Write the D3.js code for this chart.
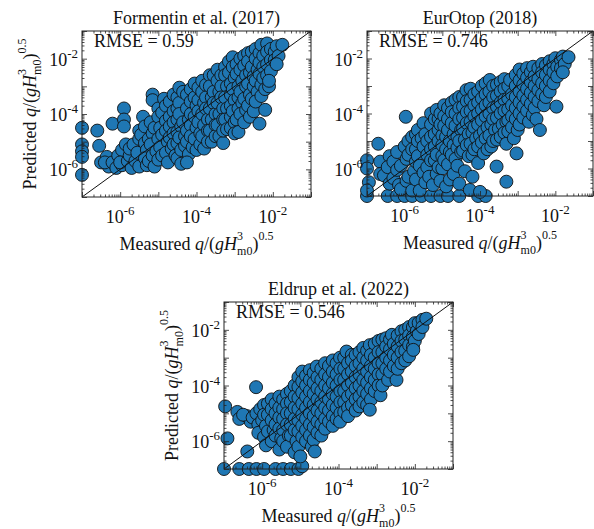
<html>
<head>
<meta charset="utf-8">
<title>Overtopping predictions</title>
<script src="https://cdnjs.cloudflare.com/ajax/libs/d3/7.8.5/d3.min.js"></script>
<style>
  body { margin: 0; background: #fff; }
  text { font-family: "Liberation Serif", "Times New Roman", serif; fill: #111; }
</style>
</head>
<body>
<script>
// values are log10 of [measured, predicted]
var formentin = [
  [-7,-4.5],[-7,-5.1],[-7,-5.35],[-7,-5.55],[-7,-6.2],
  [-6.6,-4.6],[-6.55,-5.15],[-6.5,-5.75],[-6.35,-5.55],[-6.3,-5.9],[-6.4,-5.75],
  [-6.2,-4.35],[-6.2,-5.75],[-6.1,-5.95],[-6.05,-5.5],[-5.95,-5.85],[-5.95,-5.3],[-6.0,-5.75],
  [-5.9,-3.8],[-5.9,-4.2],[-5.9,-4.45],[-5.85,-5.1],[-5.8,-5.7],
  [-5.75,-5.5],[-5.7,-5.95],[-5.75,-5.25],[-5.6,-5.7],[-5.65,-5.1],
  [-5.55,-5.4],[-5.5,-5.9],[-5.5,-4.9],[-5.5,-4.6],[-5.45,-4.75],
  [-5.4,-4.1],[-5.35,-4.45],[-5.35,-5.05],[-5.3,-5.3],[-5.35,-5.6],[-5.3,-5.85],[-5.25,-4.9],[-5.25,-5.7],
  [-5.15,-3.3],[-5.15,-3.5],[-5.2,-4.3],[-5.15,-4.7],[-5.2,-5.1],[-5.15,-5.5],[-5.1,-5.9],[-5.1,-4.5],[-5.05,-5.35],
  [-5.0,-3.8],[-5.0,-4.1],[-4.95,-4.5],[-5.0,-4.9],[-4.95,-5.2],[-5.0,-5.65],
  [-4.9,-3.95],[-4.9,-4.75],[-4.9,-5.5],
  [-4.85,-3.45],[-4.8,-3.7],[-4.8,-4.25],[-4.8,-4.6],[-4.75,-5.0],[-4.8,-5.4],[-4.75,-5.75],
  [-4.7,-3.55],[-4.7,-4.1],[-4.7,-4.45],[-4.7,-4.85],[-4.65,-5.25],
  [-4.6,-3.3],[-4.6,-3.9],[-4.6,-4.3],[-4.6,-4.7],[-4.6,-5.1],[-4.55,-5.5],
  [-4.5,-3.4],[-4.5,-3.8],[-4.5,-4.2],[-4.5,-4.65],[-4.5,-5.05],[-4.5,-5.6],
  [-4.45,-3.05],[-4.45,-3.6],[-4.45,-4.0],[-4.4,-4.45],[-4.45,-4.85],[-4.4,-5.3],[-4.4,-5.8],
  [-4.35,-3.2],[-4.35,-4.3],[-4.3,-4.8],[-4.3,-5.15],
  [-4.25,-3.3],[-4.25,-3.8],[-4.2,-4.2],[-4.25,-4.6],[-4.25,-5.0],[-4.2,-5.45],[-4.25,-5.75],
  [-4.15,-3.1],[-4.15,-3.55],[-4.15,-4.0],[-4.15,-4.4],[-4.15,-4.8],[-4.1,-5.2],
  [-4.05,-2.9],[-4.05,-3.4],[-4.0,-3.7],[-4.05,-4.1],[-4.0,-4.5],[-4.05,-4.9],[-4.0,-5.3],
  [-3.95,-3.05],[-3.95,-3.5],[-3.95,-3.9],[-3.95,-4.3],[-3.9,-4.7],[-3.9,-5.1],
  [-3.85,-2.8],[-3.85,-3.2],[-3.8,-3.6],[-3.85,-4.0],[-3.8,-4.4],[-3.85,-4.8],[-3.8,-5.25],
  [-3.75,-2.95],[-3.75,-3.4],[-3.75,-3.8],[-3.7,-4.2],[-3.7,-4.6],[-3.7,-5.0],
  [-3.65,-2.6],[-3.65,-3.0],[-3.6,-3.4],[-3.65,-3.8],[-3.6,-4.2],[-3.65,-4.6],[-3.6,-5.0],
  [-3.55,-2.6],[-3.55,-3.2],[-3.55,-3.6],[-3.5,-4.0],[-3.5,-4.4],[-3.5,-4.8],
  [-3.45,-2.4],[-3.45,-2.8],[-3.4,-3.2],[-3.45,-3.6],[-3.4,-4.0],[-3.45,-4.4],[-3.4,-4.8],[-3.3,-5.05],
  [-3.35,-2.6],[-3.35,-3.0],[-3.35,-3.4],[-3.3,-3.8],[-3.3,-4.2],[-3.3,-4.6],
  [-3.25,-2.3],[-3.25,-2.6],[-3.2,-3.0],[-3.25,-3.4],[-3.2,-3.8],[-3.25,-4.2],[-3.2,-4.55],
  [-3.15,-2.1],[-3.15,-2.5],[-3.1,-2.9],[-3.1,-3.3],[-3.1,-3.7],[-3.1,-4.1],[-3.1,-4.5],
  [-3.05,-1.95],[-3.05,-2.3],[-3.0,-2.7],[-3.05,-3.1],[-3.0,-3.5],[-3.05,-3.9],[-3.0,-4.3],[-3.0,-4.7],
  [-2.95,-2.2],[-2.95,-2.55],[-2.9,-3.0],[-2.9,-3.4],[-2.9,-3.8],[-2.95,-4.2],
  [-2.85,-2.0],[-2.85,-2.4],[-2.8,-2.8],[-2.85,-3.2],[-2.8,-3.6],[-2.85,-4.0],[-2.9,-4.65],
  [-2.75,-1.9],[-2.75,-2.25],[-2.7,-2.6],[-2.7,-3.0],[-2.75,-3.45],[-2.7,-3.85],[-2.75,-4.3],
  [-2.65,-1.8],[-2.65,-2.1],[-2.6,-2.5],[-2.65,-2.9],[-2.6,-3.3],[-2.65,-3.7],[-2.6,-4.1],
  [-2.55,-1.75],[-2.55,-2.3],[-2.5,-2.65],[-2.5,-3.0],[-2.55,-3.45],[-2.5,-3.9],
  [-2.45,-1.65],[-2.45,-2.0],[-2.4,-2.4],[-2.45,-2.8],[-2.4,-3.2],[-2.45,-3.55],
  [-2.35,-1.8],[-2.35,-2.15],[-2.35,-2.55],[-2.3,-2.95],[-2.3,-3.35],
  [-2.3,-1.5],[-2.25,-1.9],[-2.25,-2.3],[-2.25,-2.7],[-2.2,-3.1],[-2.2,-3.85],[-2.35,-4.35],
  [-2.15,-1.45],[-2.15,-1.75],[-2.15,-2.2],[-2.15,-2.6],[-2.1,-3.0],
  [-2.05,-1.65],[-2.05,-2.05],[-2.05,-2.45],[-2.1,-2.8],
  [-1.95,-1.75],[-1.95,-2.05],[-1.9,-1.55],[-1.85,-1.9],[-1.9,-2.2],[-1.75,-1.5]
];

var eurotop = [
  [-7,-7],[-6.45,-7],[-6.2,-7],[-6.0,-7],[-5.8,-7],[-5.55,-7],[-5.3,-7],[-5.05,-7],[-4.85,-7],[-4.55,-7],[-4.05,-7],[-3.85,-7],
  [-7,-5.7],[-7,-6.0],[-6.95,-6.5],[-7,-6.8],
  [-6.7,-5.1],[-6.65,-5.75],[-6.65,-6.2],[-6.55,-6.25],
  [-6.4,-5.55],[-6.45,-5.95],[-6.4,-6.55],[-6.3,-5.75],[-6.3,-6.35],
  [-6.2,-5.4],[-6.2,-6.05],[-6.15,-6.6],[-6.1,-5.9],[-6.1,-6.75],
  [-5.97,-4.12],[-6.0,-5.2],[-5.95,-5.65],[-5.95,-6.45],[-5.9,-5.0],[-5.9,-5.5],[-5.9,-6.3],
  [-5.8,-4.85],[-5.8,-5.3],[-5.75,-6.1],[-5.8,-6.8],[-5.7,-4.75],[-5.7,-5.3],[-5.7,-5.75],[-5.7,-6.4],
  [-5.65,-4.6],[-5.65,-5.0],[-5.65,-5.55],[-5.6,-5.9],[-5.6,-6.8],[-5.55,-4.9],
  [-5.5,-4.35],[-5.45,-4.75],[-5.5,-5.2],[-5.5,-6.15],[-5.45,-6.5],
  [-5.4,-5.0],[-5.4,-5.5],[-5.4,-5.95],[-5.35,-6.3],
  [-5.3,-4.0],[-5.3,-4.4],[-5.3,-4.85],[-5.3,-5.3],[-5.3,-5.7],[-5.25,-6.6],
  [-5.2,-4.2],[-5.2,-4.75],[-5.2,-5.2],[-5.2,-5.7],[-5.15,-6.2],
  [-5.15,-3.87],[-5.1,-4.2],[-5.1,-4.6],[-5.1,-5.0],[-5.15,-5.5],[-5.1,-5.95],
  [-5.05,-4.0],[-5.05,-4.4],[-5.0,-4.8],[-5.0,-5.15],[-5.0,-5.55],[-5.0,-6.0],[-5.05,-6.45],
  [-4.95,-3.7],[-4.95,-4.1],[-4.95,-4.45],[-4.9,-4.85],[-4.9,-5.3],[-4.95,-5.7],[-4.9,-6.65],
  [-4.85,-3.8],[-4.85,-4.2],[-4.85,-4.6],[-4.8,-5.0],[-4.8,-5.4],[-4.85,-5.85],[-4.8,-6.4],
  [-4.75,-3.6],[-4.75,-3.95],[-4.75,-4.35],[-4.7,-4.75],[-4.7,-5.15],[-4.75,-5.5],[-4.7,-6.2],
  [-4.65,-3.5],[-4.65,-4.0],[-4.65,-4.45],[-4.6,-4.85],[-4.6,-5.25],[-4.65,-5.65],[-4.55,-6.55],
  [-4.55,-3.4],[-4.55,-3.8],[-4.55,-4.2],[-4.5,-4.6],[-4.55,-5.0],[-4.5,-5.4],[-4.6,-5.9],
  [-4.45,-3.4],[-4.45,-3.75],[-4.45,-4.15],[-4.45,-4.55],[-4.4,-4.95],[-4.45,-5.35],[-4.4,-6.1],
  [-4.36,-3.15],[-4.35,-3.55],[-4.35,-3.95],[-4.35,-4.35],[-4.3,-4.75],[-4.35,-5.15],[-4.3,-5.55],[-4.27,-6.78],
  [-4.25,-3.1],[-4.25,-3.5],[-4.25,-3.9],[-4.25,-4.3],[-4.2,-4.7],[-4.25,-5.1],[-4.2,-5.5],[-4.2,-6.3],
  [-4.15,-3.3],[-4.15,-3.7],[-4.15,-4.1],[-4.15,-4.5],[-4.1,-4.9],[-4.15,-5.3],[-4.05,-5.8],[-4.0,-6.85],
  [-4.05,-3.2],[-4.05,-3.6],[-4.05,-4.0],[-4.05,-4.4],[-4.0,-4.8],[-4.05,-5.2],
  [-3.95,-3.0],[-3.95,-3.45],[-3.95,-3.85],[-3.95,-4.25],[-3.9,-4.65],[-3.95,-5.05],[-3.9,-5.45],
  [-3.85,-2.9],[-3.85,-3.3],[-3.85,-3.7],[-3.85,-4.1],[-3.8,-4.5],[-3.85,-4.9],[-3.8,-5.3],
  [-3.74,-2.78],[-3.75,-3.2],[-3.75,-3.6],[-3.75,-4.0],[-3.7,-4.4],[-3.75,-4.8],[-3.7,-5.2],
  [-3.65,-3.0],[-3.65,-3.4],[-3.65,-3.8],[-3.65,-4.2],[-3.6,-4.6],[-3.65,-5.0],
  [-3.55,-2.95],[-3.55,-3.35],[-3.55,-3.75],[-3.55,-4.15],[-3.5,-4.55],[-3.55,-4.95],[-3.56,-5.93],
  [-3.45,-2.85],[-3.45,-3.2],[-3.45,-3.6],[-3.45,-4.0],[-3.4,-4.4],[-3.45,-4.85],
  [-3.35,-2.75],[-3.35,-3.1],[-3.35,-3.5],[-3.35,-3.9],[-3.3,-4.3],[-3.35,-4.7],[-3.3,-5.1],[-3.3,-6.48],
  [-3.25,-3.0],[-3.25,-3.45],[-3.25,-3.85],[-3.25,-4.25],[-3.25,-4.65],
  [-3.2,-2.78],[-3.15,-3.3],[-3.15,-3.7],[-3.15,-4.1],[-3.15,-4.5],[-3.1,-4.9],
  [-3.05,-2.6],[-3.05,-3.0],[-3.05,-3.4],[-3.05,-3.8],[-3.05,-4.2],[-3.0,-4.6],
  [-2.95,-2.4],[-2.95,-2.8],[-2.95,-3.2],[-2.95,-3.6],[-2.95,-4.0],[-2.95,-4.4],[-3.03,-5.45],
  [-2.85,-2.55],[-2.85,-2.95],[-2.85,-3.35],[-2.85,-3.75],[-2.85,-4.15],
  [-2.75,-2.35],[-2.75,-2.7],[-2.75,-3.1],[-2.75,-3.5],[-2.75,-3.9],[-2.7,-4.3],
  [-2.65,-2.5],[-2.65,-2.85],[-2.65,-3.25],[-2.65,-3.65],[-2.6,-4.05],
  [-2.59,-2.3],[-2.55,-2.65],[-2.55,-3.0],[-2.55,-3.4],[-2.55,-3.8],[-2.5,-4.2],[-2.41,-4.6],
  [-2.45,-2.35],[-2.45,-2.75],[-2.45,-3.15],[-2.45,-3.55],
  [-2.35,-2.2],[-2.35,-2.5],[-2.35,-2.9],[-2.35,-3.3],[-2.3,-3.7],
  [-2.25,-2.25],[-2.25,-2.6],[-2.25,-3.0],[-2.25,-3.4],
  [-2.15,-2.1],[-2.15,-2.4],[-2.15,-2.8],[-2.15,-3.2],
  [-2.05,-2.2],[-2.05,-2.5],[-2.05,-2.9],
  [-2.0,-1.99],[-1.95,-2.3],[-1.95,-2.65],[-1.97,-3.75],
  [-1.85,-2.05],[-1.85,-2.35],
  [-1.8,-1.93],[-1.75,-2.2],[-1.8,-2.5],[-1.65,-1.95]
];

var eldrup = [
  [-7,-7],[-6.6,-7],[-6.35,-7],[-6.15,-7],[-5.95,-7],[-5.65,-7],[-5.45,-7],[-5.25,-7],[-5.05,-7],[-4.95,-6.9],
  [-6.97,-4.75],[-6.91,-5.9],[-6.39,-6.37],[-6.16,-4.06],
  [-6.65,-4.95],[-6.6,-5.2],[-6.4,-5.1],[-6.3,-5.3],[-6.5,-5.05],[-6.25,-5.15],
  [-6.15,-5.0],[-6.1,-5.4],[-6.1,-5.7],[-6.05,-4.85],[-6.0,-5.25],
  [-5.95,-4.7],[-5.95,-5.05],[-5.9,-5.45],[-5.95,-5.85],[-5.9,-6.15],
  [-5.85,-4.65],[-5.85,-5.05],[-5.85,-5.65],
  [-5.75,-4.5],[-5.75,-4.85],[-5.75,-5.25],[-5.7,-5.6],[-5.75,-6.0],
  [-5.65,-4.65],[-5.65,-5.0],[-5.65,-5.4],[-5.65,-5.8],
  [-5.55,-4.4],[-5.55,-4.8],[-5.55,-5.15],[-5.55,-5.55],[-5.5,-5.9],[-5.55,-6.3],
  [-5.45,-4.5],[-5.45,-4.85],[-5.45,-5.2],[-5.45,-5.6],[-5.45,-6.0],
  [-5.35,-4.3],[-5.35,-4.65],[-5.35,-5.0],[-5.35,-5.4],[-5.3,-5.8],[-5.35,-6.2],
  [-5.25,-4.2],[-5.25,-4.6],[-5.25,-5.0],[-5.25,-5.4],[-5.25,-5.8],
  [-5.15,-4.0],[-5.15,-4.4],[-5.15,-4.8],[-5.15,-5.2],[-5.15,-5.6],[-5.1,-6.0],[-5.15,-6.4],
  [-5.05,-3.7],[-5.05,-4.05],[-5.05,-4.45],[-5.05,-4.85],[-5.05,-5.25],[-5.05,-5.65],[-5.05,-6.2],
  [-4.95,-3.5],[-4.95,-3.85],[-4.95,-4.25],[-4.95,-4.65],[-4.95,-5.05],[-4.95,-5.45],[-4.95,-5.85],[-5.0,-6.55],
  [-4.85,-3.65],[-4.85,-4.0],[-4.85,-4.4],[-4.85,-4.8],[-4.85,-5.2],[-4.85,-5.6],[-4.85,-6.0],
  [-4.75,-3.45],[-4.75,-3.8],[-4.75,-4.2],[-4.75,-4.6],[-4.75,-5.0],[-4.75,-5.4],[-4.75,-5.8],[-4.7,-6.2],
  [-4.65,-3.55],[-4.65,-3.9],[-4.65,-4.3],[-4.65,-4.7],[-4.65,-5.1],[-4.65,-5.5],[-4.65,-5.95],
  [-4.57,-3.32],[-4.55,-3.7],[-4.55,-4.1],[-4.55,-4.5],[-4.55,-4.9],[-4.55,-5.3],[-4.55,-5.7],[-4.62,-6.37],
  [-4.45,-3.4],[-4.45,-3.8],[-4.45,-4.2],[-4.45,-4.6],[-4.45,-5.0],[-4.45,-5.4],[-4.45,-5.8],
  [-4.35,-3.2],[-4.35,-3.6],[-4.35,-4.0],[-4.35,-4.4],[-4.35,-4.8],[-4.35,-5.2],[-4.35,-5.55],
  [-4.25,-3.3],[-4.25,-3.7],[-4.25,-4.1],[-4.25,-4.5],[-4.25,-4.9],[-4.25,-5.3],
  [-4.15,-3.1],[-4.15,-3.5],[-4.15,-3.9],[-4.15,-4.3],[-4.15,-4.7],[-4.15,-5.1],[-4.15,-5.45],
  [-4.05,-3.2],[-4.05,-3.6],[-4.05,-4.0],[-4.05,-4.4],[-4.05,-4.8],[-4.05,-5.2],
  [-3.96,-3.0],[-3.95,-3.4],[-3.95,-3.8],[-3.95,-4.2],[-3.95,-4.6],[-3.95,-5.0],[-3.96,-5.3],
  [-3.85,-3.0],[-3.85,-3.4],[-3.85,-3.8],[-3.85,-4.2],[-3.85,-4.6],[-3.85,-4.95],
  [-3.79,-2.78],[-3.75,-3.2],[-3.75,-3.6],[-3.75,-4.0],[-3.75,-4.4],[-3.75,-4.8],[-3.75,-5.1],
  [-3.65,-2.9],[-3.65,-3.1],[-3.65,-3.5],[-3.65,-3.9],[-3.65,-4.3],[-3.65,-4.7],
  [-3.55,-2.9],[-3.55,-3.3],[-3.55,-3.7],[-3.55,-4.1],[-3.55,-4.5],[-3.55,-4.9],
  [-3.45,-2.8],[-3.45,-3.2],[-3.45,-3.6],[-3.45,-4.0],[-3.45,-4.4],[-3.45,-4.75],
  [-3.35,-2.65],[-3.35,-3.0],[-3.35,-3.4],[-3.35,-3.8],[-3.35,-4.2],[-3.35,-4.6],
  [-3.25,-2.75],[-3.25,-3.1],[-3.25,-3.5],[-3.25,-3.9],[-3.25,-4.3],[-3.25,-4.7],
  [-3.18,-2.55],[-3.15,-2.9],[-3.15,-3.3],[-3.15,-3.7],[-3.15,-4.1],[-3.15,-4.5],[-3.18,-4.87],
  [-3.05,-2.5],[-3.05,-3.0],[-3.05,-3.4],[-3.05,-3.8],[-3.05,-4.2],
  [-2.95,-2.4],[-2.95,-2.8],[-2.95,-3.2],[-2.95,-3.6],[-2.95,-4.0],[-2.9,-4.35],
  [-2.85,-2.35],[-2.85,-2.8],[-2.85,-3.2],[-2.85,-3.6],[-2.85,-4.0],
  [-2.75,-2.3],[-2.75,-2.6],[-2.75,-3.0],[-2.75,-3.4],[-2.7,-3.8],
  [-2.65,-2.35],[-2.65,-2.7],[-2.65,-3.1],[-2.65,-3.5],
  [-2.6,-2.18],[-2.55,-2.5],[-2.55,-2.9],[-2.55,-3.3],[-2.48,-3.8],
  [-2.45,-2.2],[-2.45,-2.6],[-2.45,-3.0],[-2.45,-3.4],
  [-2.35,-2.05],[-2.35,-2.4],[-2.35,-2.8],[-2.35,-3.2],
  [-2.25,-2.0],[-2.25,-2.35],[-2.25,-2.75],[-2.25,-3.1],
  [-2.15,-1.9],[-2.15,-2.2],[-2.15,-2.55],[-2.15,-2.95],
  [-2.05,-1.9],[-2.05,-2.25],[-2.05,-2.6],
  [-2.0,-1.76],[-1.95,-2.05],[-2.0,-2.4],[-2.04,-2.72],
  [-1.9,-1.75],[-1.9,-2.15],
  [-1.8,-1.64],[-1.8,-1.9],[-1.7,-1.6]
];

var titles = ["Formentin et al. (2017)", "EurOtop (2018)", "Eldrup et al. (2022)"];
var rmseLabels = ["RMSE = 0.59", "RMSE = 0.746", "RMSE = 0.546"];
var axisDomain = [1e-7, 1e-1];
var decadeExps = [-7, -6, -5, -4, -3, -2, -1];
var labelExps = [-6, -4, -2];

var width = 594, height = 529;
var fs = 18, fsSmall = 12;

var svg = d3.select("body")
  .append("svg")
  .attr("width", width)
  .attr("height", height);

// panel boxes (pixels)
var panels = [
  { data: formentin, title: titles[0], rmse: rmseLabels[0], x0: 82, x1: 311, y0: 31, y1: 197, ylab: true },
  { data: eurotop, title: titles[1], rmse: rmseLabels[1], x0: 367, x1: 593, y0: 31, y1: 196, ylab: false },
  { data: eldrup, title: titles[2], rmse: rmseLabels[2], x0: 224, x1: 453, y0: 302, y1: 469, ylab: true }
];

var majorTicks = decadeExps.map(function(e) { return Math.pow(10, e); });
var minorTicks = [];
decadeExps.slice(0, -1).forEach(function(e) {
  for (var k = 2; k <= 9; k++) minorTicks.push(k * Math.pow(10, e));
});

// q/(gH^3_m0)^0.5 with stacked super/subscript
function qLabel(t, prefix) {
  t.append("tspan").text(prefix + " ");
  t.append("tspan").attr("font-style", "italic").text("q");
  t.append("tspan").text("/(");
  t.append("tspan").attr("font-style", "italic").text("gH");
  t.append("tspan").attr("font-size", fsSmall).attr("dy", -10).text("3");
  t.append("tspan").attr("font-size", fsSmall).attr("dx", -6).attr("dy", 15).text("m0");
  t.append("tspan").attr("dy", -5).text(")");
  t.append("tspan").attr("font-size", fsSmall).attr("dy", -10).text("0.5");
}

function powLabel(t, e) {
  t.append("tspan").text("10");
  t.append("tspan").attr("font-size", fsSmall + 1).attr("dy", -8).text("-" + Math.abs(e));
}

panels.forEach(function(p) {
  var x = d3.scaleLog().domain(axisDomain).range([p.x0, p.x1]);
  var y = d3.scaleLog().domain(axisDomain).range([p.y1, p.y0]);
  var g = svg.append("g");

  // points
  g.selectAll("circle")
    .data(p.data)
    .enter()
    .append("circle")
    .attr("cx", function(d) { return x(Math.pow(10, d[0])); })
    .attr("cy", function(d) { return y(Math.pow(10, d[1])); })
    .attr("r", 6.5)
    .attr("fill", "#1f77b4")
    .attr("stroke", "#111")
    .attr("stroke-width", 0.9);

  // 1:1 line
  g.append("line")
    .attr("x1", x(axisDomain[0])).attr("y1", y(axisDomain[0]))
    .attr("x2", x(axisDomain[1])).attr("y2", y(axisDomain[1]))
    .attr("stroke", "#111")
    .attr("stroke-width", 1);

  // box
  g.append("rect")
    .attr("x", p.x0).attr("y", p.y0)
    .attr("width", p.x1 - p.x0).attr("height", p.y1 - p.y0)
    .attr("fill", "none")
    .attr("stroke", "#222")
    .attr("stroke-width", 1);

  // inward ticks on all four sides
  var sides = [
    [d3.axisBottom(x), "translate(0," + p.y1 + ")"],
    [d3.axisTop(x), "translate(0," + p.y0 + ")"],
    [d3.axisLeft(y), "translate(" + p.x0 + ",0)"],
    [d3.axisRight(y), "translate(" + p.x1 + ",0)"]
  ];
  sides.forEach(function(s) {
    [[majorTicks, 5], [minorTicks, 2.5]].forEach(function(t) {
      var ax = g.append("g")
        .attr("transform", s[1])
        .call(s[0].tickValues(t[0]).tickSize(-t[1]).tickFormat(""));
      ax.select(".domain").remove();
      ax.selectAll(".tick line").attr("stroke", "#222").attr("stroke-width", 0.8);
    });
  });

  // tick labels
  labelExps.forEach(function(e) {
    var tx = g.append("text")
      .attr("x", x(Math.pow(10, e)))
      .attr("y", p.y1 + 26)
      .attr("text-anchor", "middle")
      .attr("font-size", fs);
    powLabel(tx, e);
    var ty = g.append("text")
      .attr("x", p.x0 - 4)
      .attr("y", y(Math.pow(10, e)) + 7)
      .attr("text-anchor", "end")
      .attr("font-size", fs);
    powLabel(ty, e);
  });

  // title + RMSE
  g.append("text")
    .attr("x", (p.x0 + p.x1) / 2)
    .attr("y", p.y0 - 7)
    .attr("text-anchor", "middle")
    .attr("font-size", fs)
    .text(p.title);

  g.append("text")
    .attr("x", p.x0 + 12)
    .attr("y", p.y0 + 16)
    .attr("font-size", fs)
    .text(p.rmse);

  // axis labels
  var xl = g.append("text")
    .attr("x", (p.x0 + p.x1) / 2)
    .attr("y", p.y1 + 53)
    .attr("text-anchor", "middle")
    .attr("font-size", fs);
  qLabel(xl, "Measured");

  if (p.ylab) {
    var yl = g.append("text")
      .attr("transform", "translate(" + (p.x0 - 46) + "," + ((p.y0 + p.y1) / 2) + ") rotate(-90)")
      .attr("text-anchor", "middle")
      .attr("font-size", fs);
    qLabel(yl, "Predicted");
  }
});
</script>
</body>
</html>
